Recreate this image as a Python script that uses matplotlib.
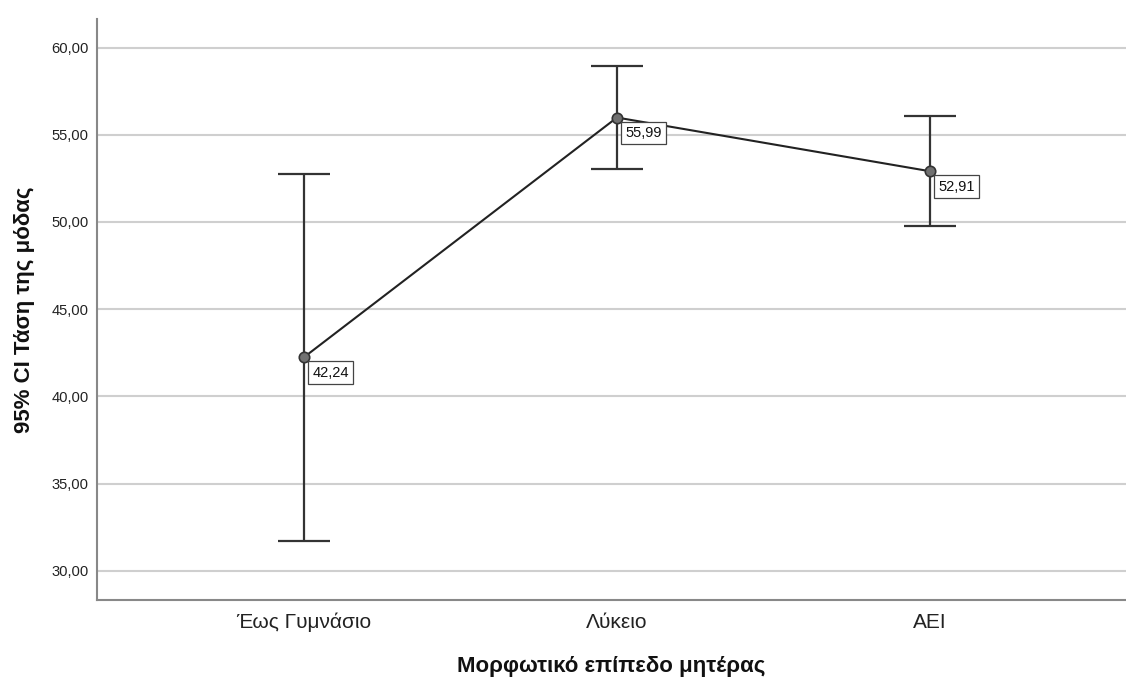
import matplotlib
matplotlib.use("Agg")
import matplotlib.pyplot as plt
from matplotlib.ticker import FuncFormatter

plt.rcParams['font.family'] = ['Liberation Sans', 'DejaVu Sans']

# Mean fashion-trend score by mother's education level, with 95% CI
categories = ["Έως Γυμνάσιο", "Λύκειο", "AEI"]
means = [42.24, 55.99, 52.91]
ci_lower = [31.73, 53.03, 49.75]
ci_upper = [52.77, 58.97, 56.08]
y_ticks = [30, 35, 40, 45, 50, 55, 60]

fig = plt.figure(figsize=(11.26, 6.77), dpi=100)
ax = fig.add_axes([0.0861, 0.1137, 0.9139, 0.8582])

x = list(range(len(categories)))
yerr = [[m - lo for m, lo in zip(means, ci_lower)],
        [hi - m for m, hi in zip(means, ci_upper)]]

ax.set_axisbelow(True)
ax.yaxis.grid(True, color="#cfcfcf", linewidth=1.5)

ax.errorbar(x, means, yerr=yerr, fmt="none", ecolor="#333333",
            elinewidth=1.6, capsize=18.7, capthick=1.6, zorder=3)
ax.plot(x, means, color="#222222", linewidth=1.5, zorder=4)
ax.plot(x, means, "o", markersize=7.5, markerfacecolor="#707070",
        markeredgecolor="#333333", markeredgewidth=1.2, zorder=5)

for xi, m in zip(x, means):
    ax.annotate(f"{m:.2f}".replace(".", ","), xy=(xi, m),
                xytext=(6, -6), textcoords="offset points",
                ha="left", va="top", fontsize=10.5, color="#111111",
                bbox=dict(boxstyle="square,pad=0.3", fc="white",
                          ec="#444444", lw=0.9), zorder=6)

ax.set_xlim(-0.661, 2.626)
ax.set_ylim(28.32, 61.64)
ax.set_xticks(x)
ax.set_xticklabels(categories, fontsize=15, color="#222222")
ax.set_yticks(y_ticks)
ax.yaxis.set_major_formatter(FuncFormatter(lambda v, p: f"{v:.2f}".replace(".", ",")))
ax.tick_params(axis="y", length=0, pad=6, labelsize=10.6, labelcolor="#222222")
ax.tick_params(axis="x", length=0, pad=9)

for side in ("top", "right"):
    ax.spines[side].set_visible(False)
for side in ("left", "bottom"):
    ax.spines[side].set_color("#888888")
    ax.spines[side].set_linewidth(1.5)

ax.set_xlabel("Μορφωτικό επίπεδο μητέρας", fontsize=16, fontweight="bold",
              labelpad=17, color="#111111")
ax.set_ylabel("95% CI Τάση της μόδας", fontsize=16, fontweight="bold",
              labelpad=12, color="#111111")

fig.savefig("out.png", dpi=100)
